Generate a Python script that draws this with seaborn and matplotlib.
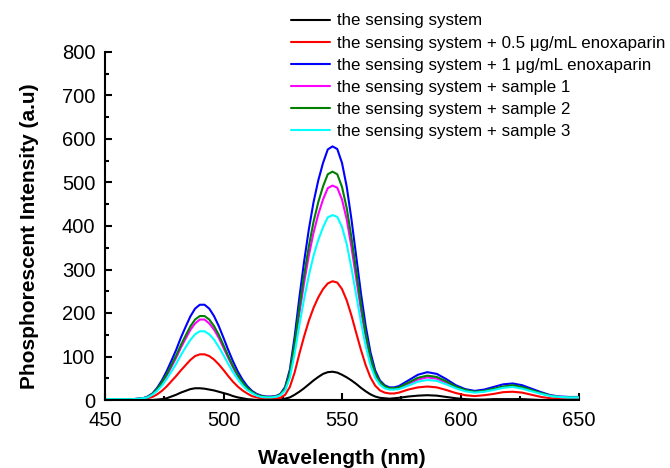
import numpy as np
import pandas as pd
import matplotlib
matplotlib.use("Agg")
import matplotlib.pyplot as plt
from matplotlib.ticker import MultipleLocator
import seaborn as sns

wavelength = ([450, 454, 458, 462]
              + list(range(466, 575, 2))
              + [578, 582, 586, 590, 594, 598, 602, 606, 610, 614, 618, 622, 626,
                 630, 634, 638, 642, 646, 650])

sensing = ([0, 0, 0, 0]
           + [0, 0, 0, 1, 2, 4, 8, 12, 17, 21, 25, 27, 27, 26, 24, 22, 19, 16, 13, 9,
              6, 4, 2, 1, 0, 0, 0, 0, 0, 1, 3, 6, 12, 19, 27, 36, 45, 53, 60, 64,
              65, 63, 58, 52, 45, 37, 28, 20, 13, 8, 5, 4, 3, 4, 5]
           + [8, 10, 11, 10, 7, 4, 2, 1, 1, 2, 2, 2, 2, 1, 0, 0, 0, 0, 0])
enox_05 = ([1, 1, 1, 1]
           + [2, 4, 7, 13, 21, 31, 43, 55, 68, 80, 92, 101, 105, 105, 101, 93, 82, 69, 55, 42,
              31, 22, 15, 9, 6, 4, 3, 3, 3, 5, 12, 30, 63, 106, 146, 182, 212, 236, 255, 268,
              273, 270, 255, 229, 194, 154, 115, 80, 52, 33, 22, 17, 15, 15, 17]
           + [24, 29, 31, 29, 23, 16, 11, 9, 11, 14, 18, 19, 17, 12, 7, 4, 2, 1, 1])
enox_1 = ([2, 2, 2, 2]
          + [4, 8, 15, 28, 45, 66, 90, 115, 143, 168, 192, 210, 219, 219, 210, 193, 170, 143, 115, 89,
             66, 47, 32, 21, 14, 10, 8, 8, 9, 14, 30, 70, 145, 235, 318, 392, 455, 505, 545, 576,
             583, 577, 545, 490, 415, 330, 245, 170, 110, 68, 45, 34, 29, 29, 32]
          + [45, 58, 64, 60, 48, 34, 25, 21, 24, 30, 36, 38, 34, 26, 18, 11, 8, 7, 7])
sample1 = ([2, 2, 2, 2]
           + [4, 7, 13, 24, 38, 55, 76, 97, 120, 141, 161, 176, 185, 185, 176, 162, 143, 120, 97, 75,
              55, 39, 27, 18, 12, 8, 7, 7, 8, 12, 25, 59, 123, 199, 269, 332, 385, 427, 461, 487,
              493, 488, 461, 415, 351, 279, 207, 144, 93, 58, 39, 30, 26, 26, 27]
           + [37, 47, 52, 49, 40, 29, 22, 18, 20, 25, 30, 32, 28, 22, 15, 10, 7, 6, 6])
sample2 = ([2, 2, 2, 2]
           + [4, 7, 14, 25, 41, 59, 80, 102, 126, 148, 169, 185, 193, 193, 185, 170, 150, 126, 101, 78,
              58, 41, 28, 19, 12, 9, 7, 7, 8, 13, 27, 63, 131, 212, 287, 353, 410, 455, 491, 519,
              525, 519, 490, 441, 373, 297, 220, 153, 99, 62, 42, 32, 27, 27, 29]
           + [40, 51, 56, 53, 43, 31, 23, 19, 21, 26, 31, 34, 30, 23, 16, 10, 7, 6, 6])
sample3 = ([2, 2, 2, 2]
           + [4, 6, 12, 21, 33, 48, 65, 83, 103, 121, 138, 151, 158, 158, 151, 139, 122, 103, 83, 64,
              48, 34, 23, 16, 10, 7, 6, 6, 7, 11, 22, 51, 106, 172, 232, 286, 332, 368, 397, 420,
              425, 421, 398, 358, 303, 241, 179, 124, 80, 51, 35, 27, 24, 24, 25]
           + [33, 42, 46, 44, 36, 27, 20, 17, 19, 23, 28, 30, 26, 20, 14, 9, 7, 6, 6])

labels = ["the sensing system",
          "the sensing system + 0.5 \u03bcg/mL enoxaparin",
          "the sensing system + 1 \u03bcg/mL enoxaparin",
          "the sensing system + sample 1",
          "the sensing system + sample 2",
          "the sensing system + sample 3"]
colors = ["#000000", "#FF0000", "#0000FF", "#FF00FF", "#008000", "#00FFFF"]
series = [sensing, enox_05, enox_1, sample1, sample2, sample3]

df = pd.concat([pd.DataFrame({"wl": wavelength, "I": s, "series": lab})
                for s, lab in zip(series, labels)], ignore_index=True)

sns.set_theme(style="ticks")
plt.rcParams['font.family'] = ['Liberation Sans', 'DejaVu Sans']
plt.rcParams['text.color'] = 'black'
plt.rcParams['axes.labelcolor'] = 'black'

fig = plt.figure(figsize=(6.7, 4.68), dpi=100)
ax = fig.add_axes([105/670, 68/468, (579-105)/670, (400-52)/468])
sns.lineplot(data=df, x="wl", y="I", hue="series", hue_order=labels,
             palette=colors, ax=ax, linewidth=1.5, legend=True)

ax.set_xlim(450, 650)
ax.set_ylim(0, 800)
ax.xaxis.set_major_locator(MultipleLocator(50))
ax.xaxis.set_minor_locator(MultipleLocator(25))
ax.yaxis.set_major_locator(MultipleLocator(100))
ax.yaxis.set_minor_locator(MultipleLocator(50))
ax.tick_params(which="both", direction="in", width=1.5, labelsize=14.5, colors="black")
ax.tick_params(which="major", length=5)
ax.tick_params(which="minor", length=3)
ax.tick_params(axis="x", pad=8)
ax.tick_params(axis="y", pad=7)
for sp in ["top", "right"]:
    ax.spines[sp].set_visible(False)
for sp in ["left", "bottom"]:
    ax.spines[sp].set_linewidth(1.5)
    ax.spines[sp].set_color("black")

ax.set_xlabel("Wavelength (nm)", fontsize=15, fontweight="bold", color="black")
ax.set_ylabel("Phosphorescent Intensity (a.u)", fontsize=15, fontweight="bold", color="black")
ax.xaxis.set_label_coords(0.5, -0.14)
ax.yaxis.set_label_coords(-0.14, 0.47)

leg = ax.legend(loc="upper left", bbox_to_anchor=(291/670, 1 - 13.5/468),
                bbox_transform=fig.transFigure, frameon=False, fontsize=12.2,
                handlelength=2.3, handletextpad=0.4, labelspacing=0.42,
                borderaxespad=0, borderpad=0)
for line in leg.get_lines():
    line.set_linewidth(1.5)
for t in leg.get_texts():
    t.set_color("black")

fig.savefig("out.png", dpi=100)
